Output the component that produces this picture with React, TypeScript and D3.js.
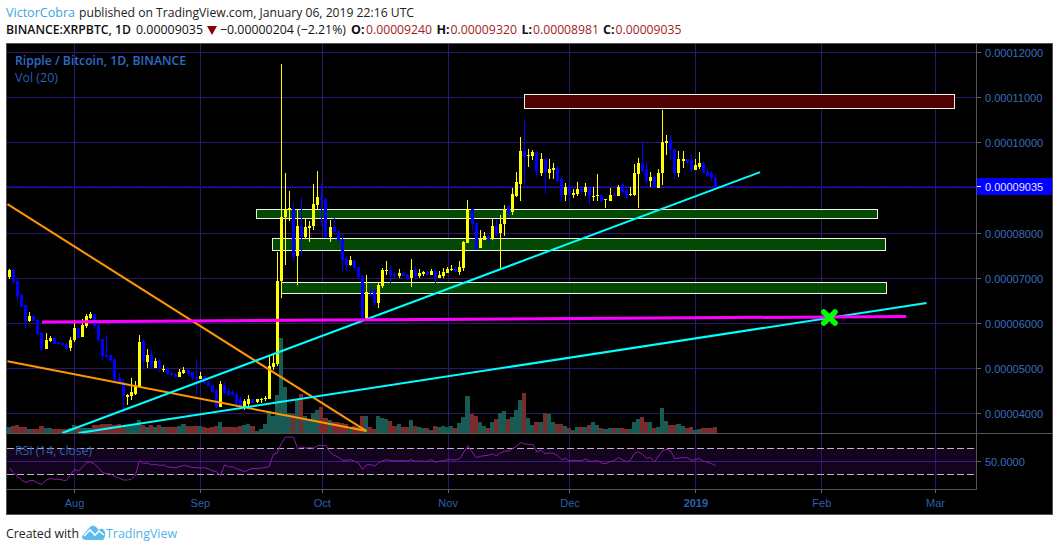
import React from "react";
import * as d3 from "d3";

const highs = [7.21,7.2,7.01,6.65,6.41,6.25,6.18,6.09,5.81,5.79,5.72,5.69,5.59,5.57,5.56,5.69,6.07,5.9,6.09,6.2,6.26,6.21,5.96,5.65,5.73,5.3,5.21,4.89,4.76,4.44,4.78,4.72,5.74,5.64,5.44,5.41,5.24,5.2,5.07,5.02,4.92,4.89,4.98,5.02,4.98,4.93,5.2,4.92,4.84,4.71,4.64,4.54,4.72,4.7,4.56,4.53,4.47,4.36,4.33,4.41,4.33,4.33,4.35,4.39,5.3,5.3,7.58,11.75,9.32,8.93,8.68,8.51,8.8,8.33,8.26,9.09,9.38,9.09,8.77,8.29,8.33,8.05,7.91,7.48,7.5,7.41,7.25,7.07,7.07,6.8,6.76,6.9,7.22,7.39,7.3,7.13,7.21,7.15,7.1,7.43,7.27,7.2,7.16,7.16,7.2,7.19,7.16,7.22,7.24,7.3,7.24,7.39,7.83,8.74,8.54,8.24,8.06,8.02,7.95,8.3,8.3,8.39,8.63,8.6,8.99,9.36,10.13,10.52,9.87,9.83,9.81,9.78,9.66,9.64,9.55,9.49,9.24,9.11,9.11,8.98,9.14,9.0,9.11,9.03,9.03,9.3,8.87,8.76,9.0,8.94,9.07,9.11,8.98,9.03,9.52,9.67,10.03,9.59,9.36,9.27,9.41,10.72,10.18,10.18,9.87,9.81,9.81,9.64,9.72,9.63,9.79,9.57,9.41,9.37,9.31];
const lows = [6.99,6.87,6.52,6.36,5.88,6.02,6.04,5.74,5.39,5.43,5.58,5.54,5.52,5.5,5.43,5.39,5.59,5.68,5.7,5.9,6.09,5.87,5.59,5.16,5.26,5.15,4.69,4.67,4.01,4.19,4.3,4.41,4.59,4.96,5.01,5,5.01,4.93,4.91,4.86,4.84,4.81,4.81,4.87,4.83,4.74,4.41,4.76,4.66,4.61,4.47,4.13,4.14,4.43,4.39,4.4,4.16,4.09,4.07,4.16,4.23,4.24,4.24,4.27,4.32,4.96,5.05,6.57,7.3,8.27,7.37,6.84,7.5,7.87,7.79,8.07,8.54,8.15,7.92,7.81,8.03,7.76,7.13,7.15,7.26,7.15,7.0,6.11,6.07,6.58,6.39,6.34,6.79,7.07,6.89,7.0,7.01,7.05,6.96,6.81,6.96,7.0,7.05,7.07,7.07,6.9,7.0,7.0,7.11,7.16,7.14,7.07,7.15,7.77,8.04,7.63,7.67,7.85,7.81,7.85,7.93,7.19,7.93,8.35,8.4,8.79,8.72,9.01,9.47,9.61,9.25,9.27,8.87,9.19,9.2,9.13,8.68,8.72,8.72,8.78,8.83,8.87,8.81,8.63,8.72,8.72,8.68,8.55,8.7,8.81,8.81,8.87,8.76,8.82,8.81,8.55,9.34,9.07,9.03,8.99,8.99,9.07,9.72,9.62,9.19,9.24,9.45,9.52,9.36,9.39,9.41,9.34,9.25,9.16,9.0];
const opens = [7.02,7.19,6.93,6.63,6.41,6.05,6.17,6.07,5.79,5.43,5.6,5.67,5.58,5.56,5.54,5.45,5.63,5.89,5.7,5.93,6.11,6.2,5.96,5.64,5.29,5.29,5.2,4.79,4.7,4.37,4.39,4.44,4.59,5.61,5.15,5.29,5.01,5.16,4.96,5.01,4.9,4.87,4.81,4.89,4.96,4.92,4.8,4.76,4.83,4.7,4.63,4.53,4.14,4.63,4.5,4.48,4.43,4.32,4.13,4.22,4.33,4.25,4.29,4.32,4.32,5.02,5.09,6.93,8.35,8.51,8.54,7.48,8.16,7.91,8.12,8.15,8.62,8.8,8.75,7.92,8.14,8.04,7.87,7.43,7.29,7.41,7.24,7.05,6.11,6.62,6.74,6.44,6.83,7.16,7.19,7.1,7.05,7.11,7.07,7.01,7.19,7.05,7.1,7.14,7.07,7.16,7.01,7.05,7.12,7.19,7.21,7.14,7.22,7.77,8.53,8.23,7.67,7.85,7.94,7.87,8.15,8.0,8.19,8.59,8.46,8.83,9.09,9.81,9.7,9.7,9.79,9.33,9.65,9.34,9.39,9.43,9.19,8.85,9.03,8.85,8.87,8.97,8.9,9.0,8.81,8.81,8.85,8.73,8.7,8.85,8.81,9.07,8.96,8.84,8.85,9.3,9.56,9.41,9.16,9.23,9.0,9.32,9.99,10.05,9.87,9.34,9.6,9.63,9.61,9.39,9.47,9.56,9.36,9.32,9.22];
const closes = [7.19,6.93,6.61,6.36,6.05,6.17,6.06,5.76,5.43,5.63,5.68,5.54,5.54,5.52,5.44,5.63,5.9,5.68,5.96,6.15,6.21,5.95,5.63,5.27,5.26,5.18,4.74,4.67,4.39,4.41,4.47,4.62,5.59,5.15,5.3,5.02,5.16,5.0,4.98,4.87,4.85,4.81,4.92,4.96,4.87,4.78,4.76,4.84,4.67,4.61,4.48,4.15,4.65,4.46,4.42,4.41,4.22,4.15,4.28,4.33,4.24,4.32,4.33,4.34,5.05,5.11,6.94,8.35,8.54,8.56,7.47,8.16,7.91,8.14,8.16,8.65,8.8,8.74,7.92,8.14,8.03,7.85,7.41,7.28,7.41,7.23,7.02,6.11,6.7,6.6,6.44,6.85,7.19,7.18,7.07,7.05,7.12,7.05,6.99,7.19,7.05,7.11,7.14,7.07,7.16,7.01,7.07,7.14,7.21,7.2,7.14,7.25,7.79,8.54,8.21,7.64,7.87,7.94,7.87,8.15,7.95,8.21,8.54,8.43,8.87,9.12,9.81,9.68,9.72,9.79,9.35,9.65,9.36,9.41,9.43,9.16,8.85,9.01,8.87,8.89,8.97,8.9,9.01,8.81,8.83,8.84,8.7,8.75,8.85,8.81,9.03,8.9,8.81,8.87,9.32,9.56,9.37,9.16,9.23,9.0,9.34,10.01,10.03,9.84,9.34,9.65,9.65,9.58,9.39,9.5,9.56,9.34,9.27,9.21,9.035];
const volumes = [6.3,7.7,8.3,6.3,6.3,5,5,5,7.3,5.7,5.7,5,4.7,4.7,5,6,8.3,7.3,6,5.3,5.3,8.3,8.3,10,10,10,8.3,9.3,7.3,7.3,8.3,10,13.3,8.3,6.7,8.3,6.7,8.3,6.7,6.3,6.3,6.7,7.7,9.3,7.3,7.3,7.3,7.3,6.3,5.7,6.7,8,11.3,6.7,6.3,6.3,6.7,7.3,9,9.7,7.3,2.3,5,9.7,21.7,17.7,38.3,96,46.7,21,20,35,40,17.3,15,21,24,26.7,15.7,14,11.7,11.7,10.7,9.3,5,8,7,17.3,17.3,6.3,4.3,17.3,15.7,14.3,12.3,7.3,9.3,6.3,6.3,13.3,7.3,6.3,5.3,5.3,4,7.3,6.3,7.3,6.3,7.3,5.3,10.3,16.3,37.3,19.3,17.3,11.3,7.3,5.3,11.3,14.3,20.3,22.3,14.3,16.3,23.3,33.3,40.3,15.3,8.3,11.3,11.3,20.3,19.3,11.3,9.3,9.3,7.3,5.3,3.3,6.3,6.3,6.3,8.3,11.3,8.3,5.3,4.3,5.3,5.3,5.3,5.3,4.3,4.3,11.3,14.3,16.3,11.3,11.3,5.3,6.3,25.3,12.3,8.3,8.3,9.3,7.3,5.3,6.3,3.3,4.3,5.3,5.3,5.3,6.3];
const rsi = [39.7,33,27,22,18,21,21,17,15,22,24,23,23,22,21,29.5,38,35.6,42,48.5,49.5,46,40,33,31.5,31,27,25,22,21.8,23,28.5,51.5,47,48,45,46,44,45,42,41,41,42.5,44,43,41,41,40,41,39,36,34.6,28.5,45,42,42,39,37,34.6,37.7,39.7,39,40,41,42.3,61,63,78,87.5,87.5,87.5,69.5,72.5,70.5,71.5,70.5,74.6,74.6,74.6,64.2,59.6,57.1,52,52,53,50.5,48,37.9,45,45.4,43.4,48,51.5,53,51.5,51,51.5,51.5,51,53,50.5,51,50.5,50.5,53,49,50.5,51.5,53,53,52.5,54.6,64.7,74.3,64.7,56,58,59,59.6,62,59,63,66,66,69.7,73.8,79.3,76.8,76.3,76.3,64.7,67.7,62,63,63,59.6,53,54.6,51,52,51.5,51.5,54,50.5,50.5,51.5,47.5,47,50,51.5,56,53,50,51.5,62.6,65,61,55,56.6,49.5,59,66.7,68.7,66,54,55.6,56,56,52,53,54.6,50.5,49,47,44];

const priceTicks = [12, 11, 10, 9, 8, 7, 6, 5, 4];
const lastPrice = 9.035;
const monthTicks = [
  { d: "2018-08-01", label: "Aug" },
  { d: "2018-09-01", label: "Sep" },
  { d: "2018-10-01", label: "Oct" },
  { d: "2018-11-01", label: "Nov" },
  { d: "2018-12-01", label: "Dec" },
  { d: "2019-01-01", label: "2019" },
  { d: "2019-02-01", label: "Feb" },
  { d: "2019-03-01", label: "Mar" },
];
const firstDay = "2018-07-16";
const lastDay = "2019-01-06";

// zones: first day, last day, upper price, lower price
const zones = [
  { a: "2018-11-20", b: "2019-03-06", hi: 11.08, lo: 10.77, fill: "#560000" },
  { a: "2018-09-14T20:00", b: "2019-02-15", hi: 8.53, lo: 8.34, fill: "#034f03" },
  { a: "2018-09-18T20:00", b: "2019-02-17", hi: 7.88, lo: 7.61, fill: "#034f03" },
  { a: "2018-09-21", b: "2019-02-17", hi: 6.9, lo: 6.65, fill: "#034f03" },
];
// trend lines: first day, first price, last day, last price
const trendLines = [
  { a: "2018-07-15T12:00", pa: 8.64, b: "2018-10-12", pb: 3.61, color: "#ff9800", w: 2 },
  { a: "2018-07-15T12:00", pa: 5.16, b: "2018-10-12", pb: 3.61, color: "#ff9800", w: 2 },
  { a: "2018-07-29", pa: 3.55, b: "2019-01-17", pb: 9.35, color: "#00ffff", w: 2 },
  { a: "2018-08-02", pa: 3.55, b: "2019-02-27", pb: 6.45, color: "#00ffff", w: 2 },
  { a: "2018-07-24", pa: 6.03, b: "2019-02-22", pb: 6.15, color: "#ff00ff", w: 3 },
];

const y = d3.scaleLinear().domain([4, 12]).range([413.5, 52.5]);
const day = (s: string) => new Date(s.includes("T") ? s + ":00Z" : s + "T00:00:00Z");
const xCandle = d3.scaleUtc().domain([day(firstDay), day(lastDay)]).range([9.5, 715.5]);
const xMonth = d3.scaleUtc().domain([day("2018-08-01"), day("2019-03-01")]).range([74.5, 935.5]);
const yVol = d3.scaleLinear().domain([0, 100]).range([433.5, 333.5]);
const yRsi = d3.scaleLinear().domain([30, 70]).range([474.7, 448.5]);
const snap = (v: number) => Math.floor(v) + 0.5;
const dates = highs.map((_, i) => d3.utcDay.offset(day(firstDay), i));
const cols = dates.map((d) => Math.floor(xCandle(d)));
const rsiLine = d3.line<number>().x((_, i) => xCandle(dates[i])).y((v) => yRsi(v));

const GRID = "#2e1670";
const AXIS_TEXT = "#3a6dbd";
const LABEL = "'Liberation Sans', Arial, sans-serif";
const UI = "'Open Sans', 'Noto Sans', sans-serif";

export default function App() {
  return (
    <svg width={1059} height={551} style={{ position: "fixed", left: 0, top: 0, display: "block", background: "#fff" }}>
      {/* header */}
      <g fontFamily={UI} fontSize={13}>
        <text x={6} y={17} fill="#3aa6de" textLength={69} lengthAdjust="spacingAndGlyphs">VictorCobra</text>
        <text x={79} y={17} fill="#222" textLength={335} lengthAdjust="spacingAndGlyphs">published on TradingView.com, January 06, 2019 22:16 UTC</text>
        <text x={6} y={34} fill="#111" fontWeight={600} textLength={125} lengthAdjust="spacingAndGlyphs">BINANCE:XRPBTC, 1D</text>
        <text x={136} y={34} fill="#111" textLength={67} lengthAdjust="spacingAndGlyphs">0.00009035</text>
        <path d="M207,26 L217,26 L212,35 Z" fill="#8b0000" />
        <text x={220} y={34} fill="#111" textLength={126} lengthAdjust="spacingAndGlyphs">−0.00000204 (−2.21%)</text>
        <text x={351} y={34} fill="#111" fontWeight={700} fontSize={12.5}>O:</text>
        <text x={366} y={34} fill="#a41c1c" textLength={66} lengthAdjust="spacingAndGlyphs">0.00009240</text>
        <text x={436.5} y={34} fill="#111" fontWeight={700} fontSize={12.5}>H:</text>
        <text x={450.5} y={34} fill="#a41c1c" textLength={66.5} lengthAdjust="spacingAndGlyphs">0.00009320</text>
        <text x={521.5} y={34} fill="#111" fontWeight={700} fontSize={12.5}>L:</text>
        <text x={533} y={34} fill="#a41c1c" textLength={66} lengthAdjust="spacingAndGlyphs">0.00008981</text>
        <text x={603} y={34} fill="#111" fontWeight={700} fontSize={12.5}>C:</text>
        <text x={615.5} y={34} fill="#a41c1c" textLength={66} lengthAdjust="spacingAndGlyphs">0.00009035</text>
      </g>

      {/* frame */}
      <rect x={6.5} y={43.5} width={1046} height={471} fill="#000" stroke="#555" />

      {/* RSI band */}
      <rect x={7} y={yRsi(70)} width={969} height={yRsi(30) - yRsi(70)} fill="#12041c" />

      {/* grid */}
      <g stroke={GRID} shapeRendering="crispEdges">
        {priceTicks.map((t) => (
          <line key={t} x1={7} x2={976} y1={snap(y(t))} y2={snap(y(t))} />
        ))}
        {monthTicks.map((m) => (
          <line key={m.d} x1={snap(xMonth(day(m.d)))} x2={snap(xMonth(day(m.d)))} y1={44} y2={489} />
        ))}
        <line x1={7} x2={976} y1={461.5} y2={461.5} stroke="#3c1a90" />
      </g>

      {/* zones */}
      <g shapeRendering="crispEdges">
        {zones.map((z) => (
          <rect
            key={z.a + z.hi}
            x={Math.floor(xCandle(day(z.a))) + 0.5}
            y={Math.floor(y(z.hi)) + 0.5}
            width={Math.round(xCandle(day(z.b)) - xCandle(day(z.a)))}
            height={Math.round(y(z.lo) - y(z.hi))}
            fill={z.fill}
            fillOpacity={0.93}
            stroke="#e8f4e4"
          />
        ))}
      </g>

      {/* volume */}
      <g shapeRendering="crispEdges">
        {volumes.map((v, i) => {
          const left = cols[i] - 2;
          const w = i < cols.length - 1 ? cols[i + 1] - cols[i] : 4;
          return (
            <rect
              key={i}
              x={left}
              y={yVol(v)}
              width={w}
              height={yVol(0) - yVol(v)}
              fill={closes[i] >= opens[i] ? "#1a5a54" : "#7a2c2c"}
            />
          );
        })}
      </g>

      {/* last price line */}
      <line x1={7} x2={976} y1={snap(y(lastPrice))} y2={snap(y(lastPrice))} stroke="#0000ff" strokeDasharray="2 1" shapeRendering="crispEdges" />

      {/* candles */}
      <g shapeRendering="crispEdges">
        {highs.map((h, i) => {
          const up = closes[i] >= opens[i];
          const color = up ? "#ffff00" : "#0000ff";
          const top = Math.round(y(Math.max(opens[i], closes[i])));
          const bot = Math.round(y(Math.min(opens[i], closes[i])));
          return (
            <g key={i} fill={color}>
              <rect x={cols[i]} y={Math.round(y(h))} width={1} height={Math.max(1, Math.round(y(lows[i])) - Math.round(y(h)))} />
              <rect x={cols[i] - 1} y={top} width={3} height={Math.max(1, bot - top)} />
            </g>
          );
        })}
      </g>

      {/* drawings */}
      {trendLines.map((l, i) => (
        <line
          key={i}
          x1={xCandle(day(l.a))}
          y1={Math.min(y(l.pa), 433)}
          x2={xCandle(day(l.b))}
          y2={Math.min(y(l.pb), 433)}
          stroke={l.color}
          strokeWidth={l.w}
        />
      ))}
      <g stroke="#00ff00" strokeWidth={5.5} strokeLinecap="round">
        <line x1={823.8} y1={312} x2={835} y2={323} />
        <line x1={835} y1={312} x2={823.8} y2={323} />
      </g>

      {/* panel separators */}
      <g stroke="#555" shapeRendering="crispEdges">
        <line x1={7} x2={1052} y1={433.5} y2={433.5} />
        <line x1={7} x2={976.5} y1={489.5} y2={489.5} />
        <line x1={976.5} x2={976.5} y1={44} y2={489.5} />
      </g>

      {/* RSI */}
      <g stroke="#bdb3c6" strokeDasharray="7 3" shapeRendering="crispEdges">
        <line x1={7} x2={976} y1={snap(yRsi(70))} y2={snap(yRsi(70))} />
        <line x1={7} x2={976} y1={snap(yRsi(30))} y2={snap(yRsi(30))} />
      </g>
      <path d={rsiLine(rsi) ?? ""} fill="none" stroke="#8a1aa8" strokeWidth={1} />

      {/* price axis */}
      <g fontFamily={LABEL} fontSize={11} fill={AXIS_TEXT}>
        {priceTicks.map((t) => (
          <g key={t}>
            <line x1={977} x2={981} y1={snap(y(t))} y2={snap(y(t))} stroke="#666" shapeRendering="crispEdges" />
            <text x={985} y={snap(y(t)) + 4}>{(t / 100000).toFixed(8)}</text>
          </g>
        ))}
        <rect x={977} y={178} width={75} height={17} fill="#0000ff" />
        <line x1={977} x2={981} y1={snap(y(lastPrice))} y2={snap(y(lastPrice))} stroke="#fff" shapeRendering="crispEdges" />
        <text x={985} y={snap(y(lastPrice)) + 4} fill="#e6e6ff">{(lastPrice / 100000).toFixed(8)}</text>
        <line x1={977} x2={981} y1={461.5} y2={461.5} stroke="#666" shapeRendering="crispEdges" />
        <text x={985} y={466}>50.0000</text>
      </g>

      {/* month axis */}
      <g fontFamily={LABEL} fontSize={11} fill="#2f5fb0" textAnchor="middle">
        {monthTicks.map((m) => (
          <g key={m.d}>
            <line x1={snap(xMonth(day(m.d)))} x2={snap(xMonth(day(m.d)))} y1={490} y2={493} stroke="#666" shapeRendering="crispEdges" />
            <text x={xMonth(day(m.d))} y={507} fontWeight={m.label === "2019" ? 700 : 400}>{m.label}</text>
          </g>
        ))}
      </g>

      {/* legends */}
      <g fontFamily={UI} fill="#2f6cc8">
        <text x={15} y={65} fontSize={12} fontWeight={600} textLength={171} lengthAdjust="spacingAndGlyphs">Ripple / Bitcoin, 1D, BINANCE</text>
        <text x={15} y={82} fontSize={12} fill="#2a5fb4" textLength={43} lengthAdjust="spacingAndGlyphs">Vol (20)</text>
        <text x={15} y={455} fontSize={12} fill="#2a5fb4" textLength={77} lengthAdjust="spacingAndGlyphs">RSI (14, close)</text>
      </g>

      {/* footer */}
      <text x={6} y={538} fontFamily={UI} fontSize={13} fill="#222" textLength={73} lengthAdjust="spacingAndGlyphs">Created with</text>
      <path d="M82,536 L90,527 Q93,524 96,527 L99,530 Q101,527 104,530 Q107,535 103,540 L86,540 Q82,540 82,536 Z" fill="#5bbcec" />
      <path d="M84,536 L90,530 L95,535 L99,531 L104,535" fill="none" stroke="#fff" strokeWidth={1.6} />
      <text x={106} y={538} fontFamily={UI} fontSize={13} fill="#4fb4e6" textLength={71} lengthAdjust="spacingAndGlyphs">TradingView</text>
    </svg>
  );
}
